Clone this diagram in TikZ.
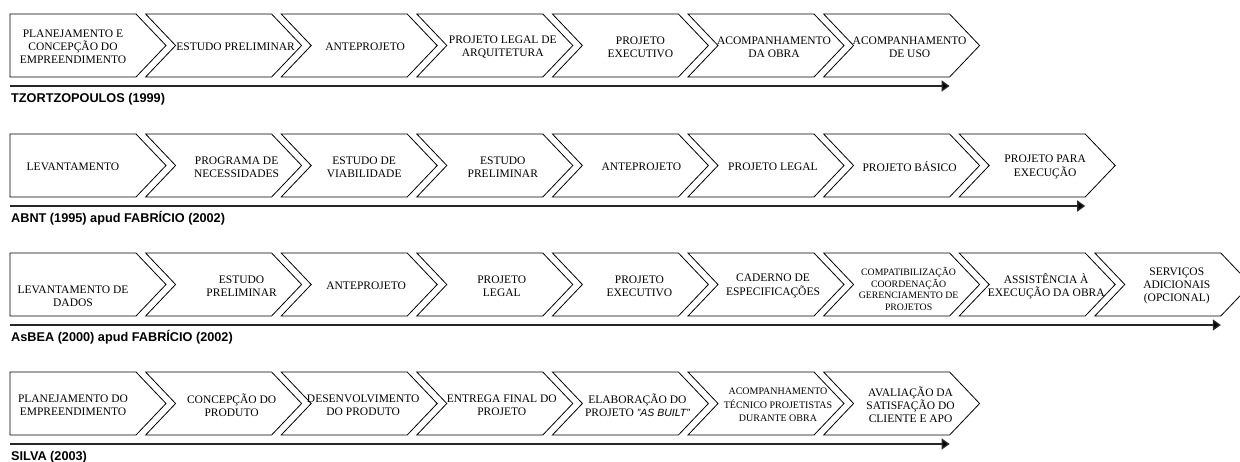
\documentclass[tikz,border=0pt]{standalone}
\usepackage{fontspec}
\setmainfont{Liberation Serif}
\setsansfont{Liberation Sans}
\usetikzlibrary{arrows.meta}

\tikzset{
  stageline/.style={draw=black, line width=0.8pt, line join=miter},
  stagetext/.style={align=center, inner sep=0pt, font=\fontsize{11.5}{13.2}\selectfont},
  smalltext/.style={align=center, inner sep=0pt, font=\fontsize{9.8}{11.7}\selectfont},
  tinytext/.style={align=center, inner sep=0pt, font=\fontsize{10}{13.5}\selectfont},
  timeline/.style={line width=1.4pt, draw=black!85, -{Triangle[length=8pt,width=11pt,fill=black]}},
  sourcelabel/.style={anchor=base west, inner sep=0pt, font=\sffamily\bfseries\fontsize{12.7}{14}\selectfont},
}

% leading stage: flat left side, pointed right side
% #1 text style, #2 node name, #3 left x, #4 top y, #5 text
\newcommand\leadstage[5]{%
  \draw[stageline] (#3,#4) -- ++(126,0) -- ++(30,31.5) -- ++(-30,31.5) -- ++(-126,0) -- cycle;
  \node[#1] (#2) at ({#3+63},{#4+33}) {#5};}

% following stage: notched left side, pointed right side
% #1 text style, #2 node name, #3 left x, #4 top y, #5 text x offset, #6 text
\newcommand\chevstage[6]{%
  \draw[stageline] (#3,#4) -- ++(126,0) -- ++(30,31.5) -- ++(-30,31.5) -- ++(-126,0) -- ++(30,-31.5) -- cycle;
  \node[#1] (#2) at ({#3+#5},{#4+33}) {#6};}

\begin{document}
\begin{tikzpicture}[x=1pt,y=-1pt]
\fill[white] (0,0) rectangle (1240,461);
\useasboundingbox (0,0) rectangle (1240,461);

% ---------- TZORTZOPOULOS (1999) ----------
\leadstage{stagetext}{a1}{10}{14}{PLANEJAMENTO E\\CONCEPÇÃO DO\\EMPREENDIMENTO}
\chevstage{stagetext}{a2}{145.6}{14}{90}{ESTUDO PRELIMINAR}
\chevstage{stagetext}{a3}{281.2}{14}{84}{ANTEPROJETO}
\chevstage{stagetext}{a4}{416.8}{14}{86}{PROJETO LEGAL DE\\ARQUITETURA}
\chevstage{stagetext}{a5}{552.4}{14}{88}{PROJETO\\EXECUTIVO}
\chevstage{stagetext}{a6}{688}{14}{86}{ACOMPANHAMENTO\\DA OBRA}
\chevstage{stagetext}{a7}{823.6}{14}{86}{ACOMPANHAMENTO\\DE USO}
\coordinate (ta) at (10,86);
\coordinate (te) at (949.6,86);
\draw[timeline] (ta) -- (te);
\node[sourcelabel] (la) at (11,102) {TZORTZOPOULOS (1999)};

% ---------- ABNT (1995) ----------
\leadstage{stagetext}{b1}{10}{134}{LEVANTAMENTO}
\chevstage{stagetext}{b2}{145.6}{134}{91}{PROGRAMA DE\\NECESSIDADES}
\chevstage{stagetext}{b3}{281.2}{134}{83}{ESTUDO DE\\VIABILIDADE}
\chevstage{stagetext}{b4}{416.8}{134}{86}{ESTUDO\\PRELIMINAR}
\chevstage{stagetext}{b5}{552.4}{134}{89}{ANTEPROJETO}
\chevstage{stagetext}{b6}{688}{134}{85}{PROJETO LEGAL}
\chevstage{stagetext}{b7}{823.6}{134}{86}{PROJETO BÁSICO}
\chevstage{stagetext}{b8}{959.2}{134}{86}{PROJETO PARA\\EXECUÇÃO}
\coordinate (tb) at (10,206);
\coordinate (tf) at (1085.2,206);
\draw[timeline] (tb) -- (tf);
\node[sourcelabel] (lb) at (11,222) {ABNT (1995) apud FABRÍCIO (2002)};

% ---------- AsBEA (2000) ----------
\leadstage{stagetext,yshift=-10pt}{c1}{10}{253}{LEVANTAMENTO DE\\DADOS}
\chevstage{stagetext}{c2}{145.6}{253}{96}{ESTUDO\\PRELIMINAR}
\chevstage{stagetext}{c3}{281.2}{253}{85}{ANTEPROJETO}
\chevstage{stagetext}{c4}{416.8}{253}{85}{PROJETO\\LEGAL}
\chevstage{stagetext}{c5}{552.4}{253}{87}{PROJETO\\EXECUTIVO}
\chevstage{stagetext}{c6}{688}{253}{85}{CADERNO DE\\ESPECIFICAÇÕES}
\chevstage{smalltext,yshift=-3pt}{c7}{823.6}{253}{85}{COMPATIBILIZAÇÃO\\COORDENAÇÃO\\GERENCIAMENTO DE\\PROJETOS}
\chevstage{stagetext}{c8}{959.2}{253}{87}{ASSISTÊNCIA À\\EXECUÇÃO DA OBRA}
\chevstage{stagetext}{c9}{1094.8}{253}{82}{SERVIÇOS\\ADICIONAIS\\(OPCIONAL)}
\coordinate (tc) at (10,325);
\coordinate (tg) at (1220.8,325);
\draw[timeline] (tc) -- (tg);
\node[sourcelabel] (lc) at (11,341) {AsBEA (2000) apud FABRÍCIO (2002)};

% ---------- SILVA (2003) ----------
\leadstage{stagetext}{d1}{10}{372}{PLANEJAMENTO DO\\EMPREENDIMENTO}
\chevstage{stagetext}{d2}{145.6}{372}{86}{CONCEPÇÃO DO\\PRODUTO}
\chevstage{stagetext}{d3}{281.2}{372}{82}{DESENVOLVIMENTO\\DO PRODUTO}
\chevstage{stagetext}{d4}{416.8}{372}{85}{ENTREGA FINAL DO\\PROJETO}
\chevstage{stagetext}{d5}{552.4}{372}{85}{ELABORAÇÃO DO\\PROJETO {\sffamily\itshape\fontsize{10.5}{13}\selectfont "AS BUILT"}}
\chevstage{tinytext}{d6}{688}{372}{90}{ACOMPANHAMENTO\\TÉCNICO PROJETISTAS\\DURANTE OBRA}
\chevstage{stagetext}{d7}{823.6}{372}{87}{AVALIAÇÃO DA\\SATISFAÇÃO DO\\CLIENTE E APO}
\coordinate (td) at (10,444);
\coordinate (th) at (949.6,444);
\draw[timeline] (td) -- (th);
\node[sourcelabel] (ld) at (11,460) {SILVA (2003)};
\end{tikzpicture}
\end{document}
